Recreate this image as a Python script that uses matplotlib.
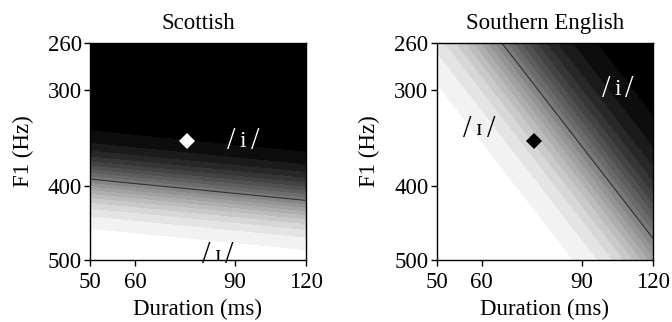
import numpy as np
import matplotlib
matplotlib.use("Agg")
import matplotlib.pyplot as plt
from matplotlib.ticker import FixedLocator, FixedFormatter, NullLocator

plt.rcParams['font.family'] = ['Liberation Serif', 'DejaVu Serif']

titles = ["Scottish", "Southern English"]
x_ticks = [50, 60, 90, 120]
y_ticks = [260, 300, 400, 500]
x_label = "Duration (ms)"
y_label = "F1 (Hz)"

# 50% category boundary (two points: duration ms, F1 Hz)
scot_boundary_dur = [50, 120]
scot_boundary_f1 = [392, 418]
seng_boundary_dur = [65, 120]
seng_boundary_f1 = [260, 469]
# one point on a further contour (duration, F1, probability of /i/)
scot_ref_point = [50, 338, 0.95]
seng_ref_point = [61.6, 359, 0.05]

# stimulus (diamond) position
stim_dur = [74, 74]
stim_f1 = [349, 349]
stim_colors = ["white", "black"]

# vowel labels: (vowel, duration, F1, colour)
scot_labels = [("i", 93, 350, "white"), ("ɪ", 84, 494, "black")]
seng_labels = [("ɪ", 59.4, 338, "black"), ("i", 104, 299, "white")]

levels = np.linspace(0, 1, 21)
FS = 16.5


def prob_surface(bd, bf, ref, D, F):
    u1, u2 = np.log(bd)
    v1, v2 = np.log(bf)
    up, vp, p = np.log(ref[0]), np.log(ref[1]), ref[2]
    base = -(v2 - v1) * (up - u1) + (u2 - u1) * (vp - v1)
    k = np.log(p / (1 - p)) / base
    L = k * (-(v2 - v1) * (np.log(D) - u1) + (u2 - u1) * (np.log(F) - v1))
    return 1 / (1 + np.exp(-L))


def vowel_label(ax, v, xd, yf, col):
    ax.annotate(v, (xd, yf), ha="center", va="center", color=col, fontsize=17,
                annotation_clip=False)
    for dx in (-8.5, 8.5):
        ax.annotate("/", (xd, yf), xytext=(dx, 0), textcoords="offset points",
                    ha="center", va="center", color=col, fontsize=22,
                    annotation_clip=False)


fig = plt.figure(figsize=(6.72, 3.22), dpi=100)
ax_pos = [[0.134, 0.193, 0.321, 0.674], [0.650, 0.193, 0.322, 0.674]]

d = np.geomspace(50, 120, 500)
f = np.geomspace(260, 500, 500)
D, F = np.meshgrid(d, f)

panels = [
    (scot_boundary_dur, scot_boundary_f1, scot_ref_point, scot_labels),
    (seng_boundary_dur, seng_boundary_f1, seng_ref_point, seng_labels),
]
band_colors = [str(1 - i / 19) for i in range(20)]

for i, (bd, bf, ref, labels) in enumerate(panels):
    ax = fig.add_axes(ax_pos[i])
    P = prob_surface(bd, bf, ref, D, F)
    ax.contourf(D, F, P, levels=levels, colors=band_colors, antialiased=False)
    ax.contour(D, F, P, levels=[0.5], colors=["#333333"], linewidths=0.8)
    ax.plot(stim_dur[i], stim_f1[i], marker="D", color=stim_colors[i],
            markersize=8, markeredgewidth=0, linestyle="none")
    for v, xd, yf, col in labels:
        vowel_label(ax, v, xd, yf, col)
    ax.set_xscale("log")
    ax.set_yscale("log")
    ax.set_xlim(50, 120)
    ax.set_ylim(500, 260)
    ax.xaxis.set_major_locator(FixedLocator(x_ticks))
    ax.xaxis.set_major_formatter(FixedFormatter([str(t) for t in x_ticks]))
    ax.xaxis.set_minor_locator(NullLocator())
    ax.yaxis.set_major_locator(FixedLocator(y_ticks))
    ax.yaxis.set_major_formatter(FixedFormatter([str(t) for t in y_ticks]))
    ax.yaxis.set_minor_locator(NullLocator())
    ax.tick_params(axis="x", direction="out", length=4, width=1, labelsize=FS, pad=5)
    ax.tick_params(axis="y", direction="out", length=4, width=1, labelsize=FS, pad=2)
    ax.set_title(titles[i], fontsize=FS, pad=10)
    ax.set_xlabel(x_label, fontsize=FS, labelpad=4)
    ax.set_ylabel(y_label, fontsize=FS, labelpad=10)
    for s in ax.spines.values():
        s.set_linewidth(1)

fig.savefig("out.png", dpi=100)
